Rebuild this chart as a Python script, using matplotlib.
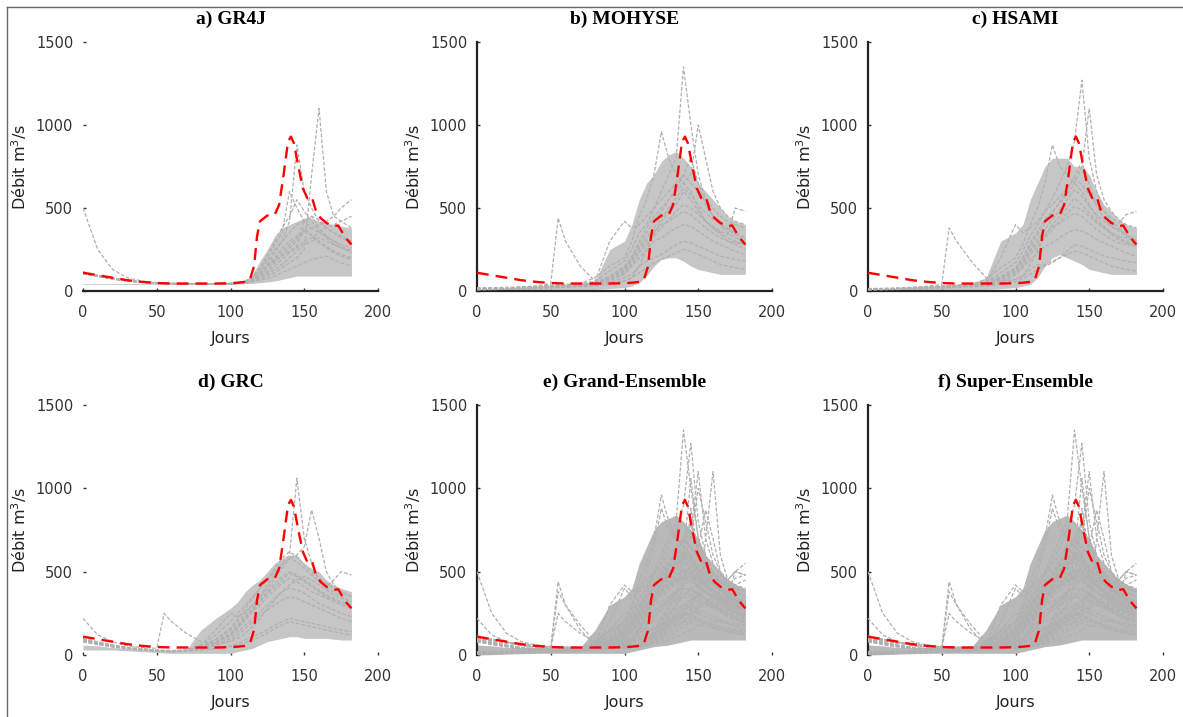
import matplotlib
matplotlib.use("Agg")
import matplotlib.pyplot as plt
from matplotlib.lines import Line2D
import numpy as np

# ---------------- data ----------------
days = [0, 10, 20, 30, 40, 50, 55, 60, 70, 80, 90, 100, 105, 110, 115, 120,
        125, 130, 135, 140, 145, 150, 155, 160, 165, 170, 175, 182]

obs_days = [0, 10, 20, 30, 40, 50, 60, 70, 80, 90, 100, 105, 110, 113, 116, 118,
            120, 125, 130, 133, 136, 139, 141, 143, 146, 149, 152, 155, 158, 161,
            165, 170, 173, 176, 179, 182]
obs_flow = [110, 95, 80, 65, 55, 48, 45, 45, 45, 45, 47, 50, 55, 65, 150, 330,
            420, 455, 460, 520, 700, 900, 930, 890, 750, 620, 560, 570, 480, 440,
            410, 390, 395, 350, 310, 280]

# individual ensemble members (one list per member, values on `days`)
gr4j_members = [
    [500, 250, 130, 80, 60, 50, 48, 46, 45, 44, 44, 45, 50, 60, 80, 120, 180, 250, 300, 350, 400, 420, 450, 430, 380, 350, 330, 300],
    [110, 90, 75, 62, 54, 48, 46, 45, 44, 43, 43, 44, 48, 55, 70, 100, 150, 200, 260, 300, 330, 360, 340, 300, 270, 240, 220, 200],
    [105, 88, 72, 60, 52, 47, 45, 44, 43, 42, 42, 43, 46, 52, 65, 90, 120, 170, 220, 260, 300, 420, 450, 380, 330, 300, 270, 240],
    [115, 95, 78, 64, 55, 49, 47, 46, 45, 44, 44, 46, 50, 58, 90, 140, 220, 300, 380, 450, 550, 480, 420, 360, 320, 280, 260, 230],
    [108, 90, 74, 61, 53, 47, 45, 44, 43, 42, 43, 44, 47, 53, 60, 80, 100, 130, 160, 200, 240, 280, 300, 320, 300, 280, 260, 240],
    [112, 93, 77, 63, 54, 48, 46, 45, 44, 43, 43, 45, 49, 56, 75, 110, 160, 230, 300, 420, 880, 600, 500, 420, 380, 350, 320, 290],
    [106, 89, 73, 61, 53, 47, 45, 44, 43, 42, 42, 43, 46, 50, 58, 70, 90, 110, 140, 170, 200, 250, 700, 1100, 600, 450, 420, 380],
    [110, 91, 75, 62, 54, 48, 46, 45, 44, 43, 43, 44, 48, 54, 68, 100, 140, 190, 240, 280, 320, 350, 380, 400, 420, 450, 500, 550],
    [104, 87, 72, 60, 52, 47, 45, 44, 43, 42, 42, 43, 45, 49, 55, 65, 75, 90, 110, 130, 150, 170, 190, 200, 210, 190, 170, 150],
    [113, 94, 77, 63, 54, 48, 46, 45, 44, 43, 44, 46, 50, 57, 85, 130, 200, 280, 350, 600, 500, 420, 380, 350, 330, 300, 280, 260],
    [107, 90, 74, 61, 53, 47, 45, 44, 43, 42, 42, 44, 47, 53, 62, 85, 110, 150, 190, 230, 260, 300, 320, 350, 380, 400, 420, 450],
    [109, 91, 75, 62, 53, 48, 46, 45, 44, 43, 43, 44, 48, 55, 72, 105, 150, 180, 210, 240, 270, 380, 330, 290, 260, 230, 210, 190],
]

mohyse_members = [
    [20, 20, 22, 25, 30, 45, 440, 300, 150, 60, 50, 60, 80, 150, 250, 350, 420, 480, 520, 600, 550, 480, 420, 380, 340, 300, 280, 250],
    [15, 15, 18, 22, 28, 35, 38, 40, 45, 80, 150, 200, 300, 450, 550, 700, 960, 800, 700, 650, 600, 500, 420, 380, 350, 320, 300, 280],
    [10, 12, 15, 20, 25, 30, 32, 35, 40, 60, 120, 180, 250, 350, 400, 500, 600, 700, 800, 1350, 1000, 700, 550, 450, 400, 350, 320, 300],
    [12, 14, 16, 20, 24, 28, 30, 32, 38, 50, 90, 150, 200, 300, 380, 450, 500, 550, 600, 650, 700, 1000, 800, 600, 500, 450, 420, 400],
    [8, 10, 12, 15, 20, 25, 28, 30, 35, 45, 80, 120, 180, 250, 300, 350, 400, 420, 450, 480, 460, 420, 380, 350, 320, 300, 290, 280],
    [10, 11, 13, 16, 20, 24, 26, 28, 32, 40, 60, 100, 150, 200, 250, 300, 320, 350, 380, 400, 390, 360, 330, 300, 280, 260, 240, 220],
    [14, 15, 18, 22, 26, 30, 33, 35, 40, 55, 300, 420, 380, 400, 450, 500, 550, 600, 650, 700, 650, 600, 550, 500, 450, 420, 400, 380],
    [9, 10, 12, 14, 18, 22, 24, 26, 30, 35, 50, 80, 100, 150, 180, 200, 220, 250, 280, 300, 290, 270, 250, 230, 210, 200, 190, 180],
    [11, 12, 14, 17, 21, 26, 28, 30, 34, 42, 70, 110, 160, 230, 280, 330, 380, 430, 480, 520, 500, 460, 420, 390, 360, 340, 500, 480],
    [13, 14, 16, 19, 23, 27, 29, 31, 36, 48, 85, 140, 210, 280, 350, 420, 480, 550, 620, 700, 800, 650, 520, 450, 400, 380, 350, 320],
    [7, 8, 10, 12, 15, 18, 20, 22, 26, 30, 40, 60, 80, 110, 140, 170, 190, 210, 230, 250, 240, 220, 200, 180, 160, 150, 140, 130],
    [12, 13, 15, 18, 22, 26, 28, 30, 34, 44, 75, 130, 190, 260, 320, 380, 440, 500, 560, 620, 580, 520, 470, 430, 400, 370, 340, 310],
]

hsami_members = [
    [15, 16, 18, 22, 28, 40, 380, 300, 180, 80, 60, 70, 90, 160, 250, 330, 400, 450, 500, 560, 520, 470, 420, 380, 340, 310, 290, 270],
    [12, 13, 15, 18, 24, 30, 33, 35, 40, 70, 140, 200, 280, 400, 500, 650, 880, 750, 700, 650, 600, 520, 440, 390, 350, 320, 300, 280],
    [10, 11, 13, 17, 22, 27, 30, 32, 38, 55, 110, 170, 240, 330, 400, 480, 560, 650, 750, 900, 1270, 800, 600, 480, 420, 380, 340, 300],
    [11, 12, 14, 18, 22, 27, 29, 31, 36, 50, 90, 140, 200, 290, 360, 430, 480, 530, 580, 650, 750, 1100, 700, 550, 480, 430, 400, 380],
    [8, 9, 11, 14, 18, 23, 25, 27, 32, 42, 75, 115, 170, 240, 290, 340, 390, 410, 440, 470, 450, 410, 370, 340, 310, 290, 280, 270],
    [9, 10, 12, 15, 19, 23, 25, 27, 31, 38, 55, 95, 140, 190, 230, 270, 290, 320, 350, 370, 360, 340, 310, 290, 270, 250, 230, 210],
    [13, 14, 17, 21, 25, 29, 31, 34, 39, 52, 200, 400, 350, 380, 420, 480, 520, 570, 620, 680, 640, 580, 530, 480, 440, 410, 460, 480],
    [8, 9, 11, 13, 17, 21, 23, 25, 29, 33, 45, 70, 90, 130, 160, 150, 170, 200, 240, 280, 270, 250, 230, 210, 200, 190, 180, 170],
    [10, 11, 13, 16, 20, 25, 27, 29, 33, 40, 65, 105, 150, 220, 270, 320, 370, 420, 470, 510, 490, 450, 410, 380, 350, 330, 320, 300],
    [12, 13, 15, 18, 22, 26, 28, 30, 35, 46, 80, 130, 200, 270, 340, 410, 470, 540, 610, 690, 780, 640, 510, 440, 390, 370, 340, 310],
    [7, 8, 9, 11, 14, 17, 19, 21, 25, 29, 38, 55, 75, 100, 130, 160, 180, 200, 220, 240, 230, 210, 190, 170, 150, 140, 130, 120],
    [11, 12, 14, 17, 21, 25, 27, 29, 33, 43, 72, 125, 180, 250, 310, 370, 430, 490, 550, 610, 570, 510, 460, 420, 390, 360, 330, 300],
]

grc_members = [
    [220, 120, 80, 55, 45, 40, 250, 200, 130, 80, 70, 80, 100, 130, 170, 220, 280, 330, 380, 420, 450, 470, 450, 420, 390, 360, 340, 320],
    [100, 80, 60, 45, 38, 30, 28, 27, 30, 60, 120, 200, 250, 300, 350, 400, 450, 500, 550, 600, 1060, 700, 550, 450, 400, 380, 350, 320],
    [95, 75, 58, 44, 36, 28, 26, 25, 28, 50, 90, 150, 200, 250, 300, 350, 420, 480, 540, 580, 600, 650, 870, 700, 500, 420, 380, 350],
    [90, 72, 55, 42, 34, 27, 25, 24, 27, 45, 80, 130, 180, 230, 280, 330, 380, 430, 470, 500, 480, 450, 420, 390, 360, 340, 320, 300],
    [85, 68, 52, 40, 32, 25, 23, 22, 25, 40, 60, 100, 140, 180, 220, 260, 300, 340, 380, 400, 390, 370, 340, 310, 290, 270, 250, 230],
    [88, 70, 54, 41, 33, 26, 24, 23, 26, 38, 55, 85, 120, 160, 200, 240, 270, 300, 330, 350, 340, 320, 300, 280, 260, 240, 220, 200],
    [92, 74, 56, 43, 35, 27, 25, 24, 28, 60, 150, 250, 230, 260, 300, 350, 400, 460, 520, 580, 560, 520, 480, 440, 410, 450, 500, 480],
    [80, 64, 50, 38, 30, 24, 22, 21, 24, 32, 40, 55, 70, 90, 110, 130, 150, 180, 200, 220, 210, 200, 190, 180, 170, 160, 150, 140],
    [87, 70, 54, 41, 33, 26, 24, 23, 26, 42, 70, 115, 160, 210, 260, 300, 350, 390, 430, 460, 440, 410, 380, 360, 340, 320, 300, 280],
    [93, 74, 57, 43, 35, 27, 25, 24, 28, 52, 95, 160, 220, 280, 340, 400, 450, 520, 580, 620, 590, 540, 500, 460, 430, 400, 380, 350],
    [78, 62, 48, 37, 29, 23, 21, 20, 23, 30, 38, 50, 60, 75, 90, 110, 130, 160, 180, 200, 190, 180, 170, 160, 150, 140, 130, 120],
    [89, 71, 55, 42, 34, 26, 24, 23, 27, 44, 75, 120, 170, 220, 270, 320, 370, 410, 450, 490, 470, 440, 410, 380, 350, 330, 310, 290],
]

# dense core of each ensemble cloud (lower / upper edge, values on `days`)
gr4j_core_lo = [40, 40, 40, 40, 40, 40, 40, 40, 40, 40, 40, 40, 42, 44, 46, 50, 55, 60, 70, 80, 90, 90, 90, 90, 90, 90, 90, 90]
gr4j_core_hi = [45, 45, 45, 45, 45, 45, 45, 45, 45, 45, 45, 46, 50, 60, 100, 180, 250, 330, 380, 400, 420, 440, 440, 420, 410, 400, 390, 380]
mohyse_core_lo = [0, 2, 5, 8, 10, 10, 10, 10, 10, 10, 15, 20, 30, 50, 90, 150, 190, 200, 200, 180, 150, 130, 120, 110, 100, 100, 100, 100]
mohyse_core_hi = [5, 10, 20, 25, 30, 35, 38, 40, 45, 60, 250, 300, 400, 550, 650, 700, 780, 820, 840, 800, 750, 650, 600, 550, 500, 450, 420, 400]
hsami_core_lo = [0, 2, 5, 8, 10, 10, 10, 10, 10, 10, 15, 20, 30, 40, 80, 150, 200, 220, 200, 180, 160, 130, 120, 110, 100, 100, 100, 100]
hsami_core_hi = [5, 10, 20, 25, 30, 35, 38, 40, 45, 80, 300, 350, 400, 550, 650, 750, 800, 800, 800, 750, 750, 700, 600, 520, 480, 430, 400, 380]
grc_core_lo = [30, 30, 30, 25, 20, 15, 12, 10, 10, 10, 10, 10, 20, 30, 40, 60, 80, 90, 100, 110, 110, 100, 100, 100, 100, 95, 90, 90]
grc_core_hi = [60, 55, 45, 40, 35, 30, 28, 28, 30, 150, 220, 280, 320, 380, 420, 450, 500, 550, 580, 600, 600, 550, 520, 500, 450, 420, 400, 380]

titles = ["a) GR4J", "b) MOHYSE", "c) HSAMI", "d) GRC",
          "e) Grand-Ensemble", "f) Super-Ensemble"]
x_ticks = [0, 50, 100, 150, 200]
y_ticks = [0, 500, 1000, 1500]
x_label = "Jours"
y_label = "Débit m$^3$/s"

# ---------------- assemble panels ----------------
grand = gr4j_members + mohyse_members + hsami_members + grc_members
all_lo = np.min([gr4j_core_lo, mohyse_core_lo, hsami_core_lo, grc_core_lo], axis=0)
all_hi = np.max([gr4j_core_hi, mohyse_core_hi, hsami_core_hi, grc_core_hi], axis=0)
panel_members = [gr4j_members, mohyse_members, hsami_members, grc_members, grand, grand]
panel_core = [(gr4j_core_lo, gr4j_core_hi), (mohyse_core_lo, mohyse_core_hi),
              (hsami_core_lo, hsami_core_hi), (grc_core_lo, grc_core_hi),
              (all_lo, all_hi), (all_lo, all_hi)]

W, H = 1183, 717
fig = plt.figure(figsize=(W / 100, H / 100), dpi=100)
fig.patch.set_facecolor("white")

lefts = [83, 477, 868]
ax_w = 295
row_tb = [(42, 291), (405, 655)]

spine_vis = [
    (False, True), (True, True), (True, True),
    (False, False), (True, False), (True, False),
]

for i in range(6):
    r, c = divmod(i, 3)
    top, bot = row_tb[r]
    ax = fig.add_axes([lefts[c] / W, 1 - bot / H, ax_w / W, (bot - top) / H])
    lo, hi = panel_core[i]
    band_col = "#c6c6c6" if i < 4 else "#b9b9b9"
    ax.fill_between(days, lo, hi, color=band_col, lw=0, zorder=2)
    for m in panel_members[i]:
        ax.plot(days, m, color="#b0b0b0", lw=0.9, ls=(0, (3, 1.5)), zorder=3)
    ax.plot(obs_days, obs_flow, color="red", lw=1.7, ls=(0, (5, 3)), zorder=4)
    ax.set_xlim(0, 200)
    ax.set_ylim(0, 1500)
    ax.set_xticks(x_ticks)
    ax.set_yticks(y_ticks)
    ax.tick_params(direction="in", length=2.5, width=1, colors="#333333",
                   labelsize=10.5, labelcolor="#333333")
    ax.tick_params(axis="x", pad=10)
    ax.tick_params(axis="y", pad=7)
    ax.spines["top"].set_visible(False)
    ax.spines["right"].set_visible(False)
    lv, bv = spine_vis[i]
    ax.spines["left"].set_visible(lv)
    ax.spines["bottom"].set_visible(bv)
    for s in ("left", "bottom"):
        ax.spines[s].set_linewidth(1.6)
        ax.spines[s].set_color("#222222")
    ax.set_xlabel(x_label, fontsize=11.5, color="#222222", labelpad=8)
    ax.set_ylabel(y_label, fontsize=11.5, color="#222222", labelpad=5)
    ax.set_title(titles[i], fontsize=14, fontweight="bold",
                 family="Liberation Serif", pad=13)

fig.add_artist(Line2D([7 / W, 7 / W], [0, 1 - 7 / H], color="#666666", lw=1,
                      transform=fig.transFigure))
fig.add_artist(Line2D([7 / W, 1], [1 - 7 / H, 1 - 7 / H], color="#666666", lw=1,
                      transform=fig.transFigure))

fig.savefig("out.png", dpi=100)
